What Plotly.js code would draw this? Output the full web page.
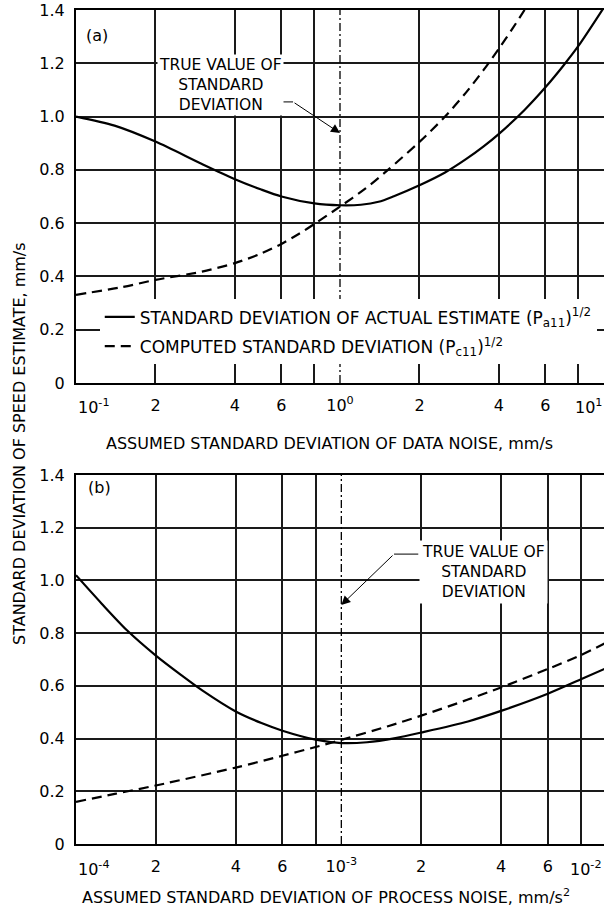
<!DOCTYPE html>
<html><head><meta charset="utf-8">
<script src="https://cdn.plot.ly/plotly-3.0.1.min.js"></script>
<style>html,body{margin:0;padding:0;background:#fff;overflow:hidden}</style>
</head><body><div id="chart" style="width:605px;height:908px"></div>
<script>
// ---- data: panel (a), data noise (mm/s) ----
const dataNoiseActual = [0.1, 0.14, 0.2, 0.3, 0.4, 0.5, 0.6, 0.8, 1.0, 1.2, 1.4, 1.6, 2.0, 2.5, 3.0, 3.5, 4.0, 5.0, 6.0, 7.0, 8.0, 10];
const actualA = [1.0, 0.966, 0.906, 0.822, 0.765, 0.727, 0.700, 0.674, 0.667, 0.669, 0.680, 0.701, 0.742, 0.79, 0.84, 0.888, 0.935, 1.025, 1.11, 1.19, 1.265, 1.41];
const dataNoiseComputed = [0.1, 0.15, 0.2, 0.3, 0.4, 0.5, 0.6, 0.7, 0.8, 1.0, 1.25, 1.5, 2.0, 2.5, 3.0, 3.5, 4.0, 4.5, 5.0, 5.4];
const computedA = [0.331, 0.36, 0.387, 0.418, 0.450, 0.485, 0.522, 0.56, 0.597, 0.662, 0.73, 0.795, 0.905, 1.0, 1.09, 1.175, 1.255, 1.33, 1.40, 1.455];
// ---- data: panel (b), process noise (mm/s^2) ----
const procNoiseActual = [1e-4, 1.25e-4, 1.56e-4, 2e-4, 2.5e-4, 3e-4, 4e-4, 5e-4, 6e-4, 8e-4, 1e-3, 1.25e-3, 1.6e-3, 2e-3, 3e-3, 4e-3, 6e-3, 8e-3, 1e-2];
const actualB = [1.02, 0.912, 0.81, 0.715, 0.64, 0.582, 0.503, 0.459, 0.43, 0.396, 0.383, 0.386, 0.402, 0.423, 0.465, 0.505, 0.57, 0.625, 0.668];
const procNoiseComputed = [1e-4, 1.4e-4, 2e-4, 4e-4, 6e-4, 8e-4, 1e-3, 1.5e-3, 2e-3, 3e-3, 4e-3, 6e-3, 8e-3, 1e-2];
const computedB = [0.16, 0.19, 0.222, 0.29, 0.335, 0.368, 0.395, 0.447, 0.487, 0.548, 0.594, 0.664, 0.717, 0.765];
// true values of the standard deviation
const trueA = 1.0;
const trueB = 1e-3;
// tick labels
const yTickVals = [0, 0.2, 0.4, 0.6, 0.8, 1.0, 1.2, 1.4];
const yTickText = ['0', '0.2', '0.4', '0.6', '0.8', '1.0', '1.2', '1.4'];
const xTickValsA = [0.2, 0.4, 0.6, 1, 2, 4, 6];
const xTickTextA = ['2', '4', '6', '10<sup>0</sup>', '2', '4', '6'];
const xGridA = [0.2, 0.4, 0.6, 0.8, 2, 4, 6, 8, 10];
const xTickValsB = [2e-4, 4e-4, 6e-4, 1e-3, 2e-3, 4e-3, 6e-3];
const xTickTextB = ['2', '4', '6', '10<sup>-3</sup>', '2', '4', '6'];
const xGridB = [2e-4, 4e-4, 6e-4, 8e-4, 2e-3, 4e-3, 6e-3, 8e-3];

const FONT = 'DejaVu Sans, sans-serif';
const BLACK = '#000';
const GRID = '#1a1a1a';
const legendActual = 'STANDARD DEVIATION OF ACTUAL ESTIMATE (P<sub>a11</sub>)<sup>1/2</sup>';
const legendComputed = 'COMPUTED STANDARD DEVIATION (P<sub>c11</sub>)<sup>1/2</sup>';

const solid = {color: BLACK, width: 2.2, shape: 'spline', smoothing: 0.8};
const dashed = {color: BLACK, width: 2.2, dash: '10px,6px', shape: 'spline', smoothing: 0.8};
const dashdot = {color: BLACK, width: 1.3, dash: '8px,3px,2px,3px'};
const thin = {color: BLACK, width: 1};

const traces = [
  {x: dataNoiseActual, y: actualA, xaxis: 'x', yaxis: 'y', mode: 'lines', line: solid, name: legendActual, legendgroup: 'g1', hoverinfo: 'skip'},
  {x: dataNoiseComputed, y: computedA, xaxis: 'x', yaxis: 'y', mode: 'lines', line: dashed, name: legendComputed, legendgroup: 'g2', hoverinfo: 'skip'},
  {x: procNoiseActual, y: actualB, xaxis: 'x2', yaxis: 'y2', mode: 'lines', line: solid, showlegend: false, hoverinfo: 'skip'},
  {x: procNoiseComputed, y: computedB, xaxis: 'x2', yaxis: 'y2', mode: 'lines', line: dashed, showlegend: false, hoverinfo: 'skip'},
  {x: [trueA, trueA], y: [0, 1.4], xaxis: 'x', yaxis: 'y', mode: 'lines', line: dashdot, showlegend: false, hoverinfo: 'skip'},
  {x: [trueB, trueB], y: [0, 1.4], xaxis: 'x2', yaxis: 'y2', mode: 'lines', line: dashdot, showlegend: false, hoverinfo: 'skip'},
  // leader lines of the call-outs
  {x: [0.533, 0.664], y: [1.055, 1.055], xaxis: 'x', yaxis: 'y', mode: 'lines', line: thin, showlegend: false, hoverinfo: 'skip'},
  {x: [1.58e-3, 1.95e-3], y: [1.10, 1.10], xaxis: 'x2', yaxis: 'y2', mode: 'lines', line: thin, showlegend: false, hoverinfo: 'skip'}
];

function xAxis(range, tv, tt, grid, anchor) {
  return {
    type: 'log', range: range, anchor: anchor,
    tickmode: 'array', tickvals: tv, ticktext: tt, ticks: '',
    showgrid: false, zeroline: false,
    showline: true, linecolor: BLACK, linewidth: 2, mirror: true,
    tickfont: {family: FONT, size: 16, color: BLACK},
    ticklabelstandoff: 7,
    minor: {tickmode: 'array', tickvals: grid, showgrid: true, gridcolor: GRID, gridwidth: 2, ticks: ''}
  };
}
function yAxis(domain, anchor) {
  return {
    range: [0, 1.4], domain: domain, anchor: anchor,
    tickmode: 'array', tickvals: yTickVals, ticktext: yTickText, ticks: '',
    showgrid: true, gridcolor: GRID, gridwidth: 2, zeroline: false,
    showline: true, linecolor: BLACK, linewidth: 2,
    tickfont: {family: FONT, size: 16, color: BLACK},
    ticklabelstandoff: 6
  };
}

const tf = {family: FONT, size: 16, color: BLACK};
const cf = {family: FONT, size: 15.5, color: BLACK};
function pa(text, x, y, extra) {
  return Object.assign({text: text, xref: 'paper', yref: 'paper', x: x, y: y, xanchor: 'center', yanchor: 'middle', showarrow: false, font: tf}, extra || {});
}
const annotations = [
  pa('STANDARD DEVIATION OF SPEED ESTIMATE, mm/s', -0.108, 0.4808, {textangle: -90}),
  pa('ASSUMED STANDARD DEVIATION OF DATA NOISE, mm/s', 0.481, 0.4808),
  pa('ASSUMED STANDARD DEVIATION OF PROCESS NOISE, mm/s<sup>2</sup>', 0.473, -0.0624),
  pa('(a)', 0.0398, 0.970),
  pa('(b)', 0.0436, 0.428),
  pa('10<sup>-1</sup>', 0, 0.524, {xanchor: 'left'}),
  pa('10<sup>1</sup>', 1, 0.524, {xanchor: 'right'}),
  pa('10<sup>-4</sup>', 0, -0.0288, {xanchor: 'left'}),
  pa('10<sup>-2</sup>', 1, -0.0288, {xanchor: 'right'}),
  {text: 'TRUE VALUE OF<br>STANDARD<br>DEVIATION', xref: 'x', yref: 'y', x: Math.log10(0.354), y: 1.12, xanchor: 'center', yanchor: 'middle', showarrow: false, bgcolor: '#fff', borderpad: 1, font: cf},
  {text: '', xref: 'x', yref: 'y', x: Math.log10(trueA), y: 0.938, axref: 'x', ayref: 'y', ax: Math.log10(0.664), ay: 1.055, showarrow: true, arrowhead: 2, arrowsize: 1.8, arrowwidth: 1, arrowcolor: BLACK},
  {text: 'TRUE VALUE OF<br>STANDARD<br>DEVIATION', xref: 'x2', yref: 'y2', x: Math.log10(3.42e-3), y: 1.032, xanchor: 'center', yanchor: 'middle', showarrow: false, bgcolor: '#fff', borderpad: 2, font: cf},
  {text: '', xref: 'x2', yref: 'y2', x: Math.log10(trueB), y: 0.907, axref: 'x2', ayref: 'y2', ax: Math.log10(1.58e-3), ay: 1.10, showarrow: true, arrowhead: 2, arrowsize: 1.8, arrowwidth: 1, arrowcolor: BLACK}
];

const layout = {
  width: 605, height: 908,
  margin: {l: 76, r: 1, t: 10, b: 64},
  paper_bgcolor: '#fff', plot_bgcolor: '#fff',
  font: {family: FONT, size: 16, color: BLACK},
  showlegend: true,
  legend: {x: 0.045, y: 0.653, xanchor: 'left', yanchor: 'top', bgcolor: '#fff', borderwidth: 0,
           font: {family: FONT, size: 17, color: BLACK}, itemwidth: 30, tracegroupgap: 4, traceorder: 'grouped'},
  xaxis: xAxis([-1, 1], xTickValsA, xTickTextA, xGridA, 'y'),
  yaxis: yAxis([0.5528, 1], 'x'),
  xaxis2: xAxis([-4, -2.01], xTickValsB, xTickTextB, xGridB, 'y2'),
  yaxis2: yAxis([0, 0.4424], 'x2'),
  annotations: annotations
};

Plotly.newPlot('chart', traces, layout, {staticPlot: true, displayModeBar: false});
</script></body></html>
